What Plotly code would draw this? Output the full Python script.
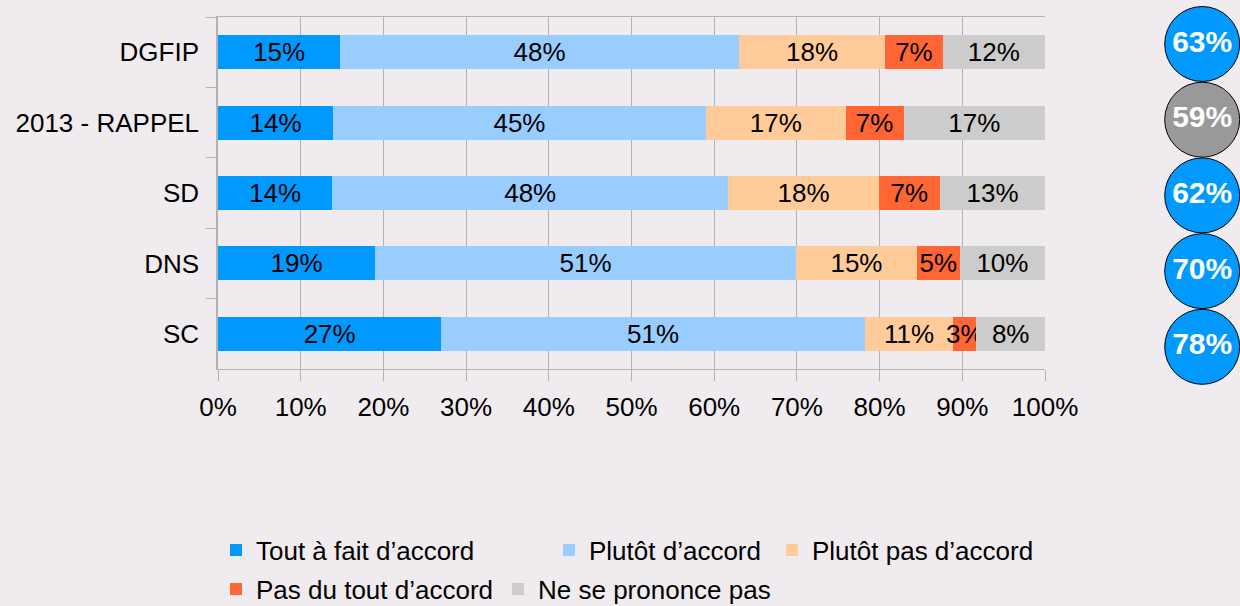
import plotly.graph_objects as go

categories = ["DGFIP", "2013 - RAPPEL", "SD", "DNS", "SC"]
series_names = ["Tout à fait d’accord", "Plutôt d’accord", "Plutôt pas d’accord",
                "Pas du tout d’accord", "Ne se prononce pas"]
tout_a_fait = [14.75, 13.9, 13.8, 19.0, 27.0]
plutot = [48.25, 45.1, 47.9, 50.9, 51.2]
plutot_pas = [17.65, 16.9, 18.2, 14.6, 10.7]
pas_du_tout = [7.0, 7.0, 7.4, 5.2, 2.8]
nsp = [12.33, 17.1, 12.7, 10.3, 8.3]
accord_total = [63, 59, 62, 70, 78]
x_ticks = [0, 10, 20, 30, 40, 50, 60, 70, 80, 90, 100]

series_values = [tout_a_fait, plutot, plutot_pas, pas_du_tout, nsp]
colors = ["#0099ff", "#99ccff", "#ffcc99", "#ff6633", "#cccccc"]
circle_colors = ["#0099ff", "#999999", "#0099ff", "#0099ff", "#0099ff"]

FONT = "Liberation Sans, Arial, sans-serif"
FS = 26
BG = "#efebef"
GRID = "#b3b3b3"

fig = go.Figure()
legend_ids = ["legend", "legend2", "legend3", "legend4", "legend5"]
for name, vals, col, lg in zip(series_names, series_values, colors, legend_ids):
    fig.add_trace(go.Bar(
        y=categories, x=vals, name=name, orientation="h",
        marker=dict(color=col, line=dict(width=0)),
        texttemplate="%{x:.0f}%", textposition="inside",
        insidetextanchor="middle", textangle=0,
        textfont=dict(color="#000000", size=FS, family=FONT),
        legend=lg, hoverinfo="skip",
    ))

fig.add_trace(go.Scatter(
    x=[0.58] * len(accord_total), y=list(range(len(accord_total))),
    xaxis="x2", yaxis="y2", mode="markers+text",
    marker=dict(size=75, color=circle_colors, line=dict(color="#000000", width=1)),
    text=[f"{v}%" for v in accord_total], textposition="middle center",
    textfont=dict(color="#ffffff", size=30, family=FONT, weight="bold"),
    cliponaxis=False, showlegend=False, hoverinfo="skip",
))

W, H = 1240, 606
ml, mr, mt, mb = 218, 0, 17, 237
pw = W - ml - mr
ph = H - mt - mb
main_end = (1045 - ml) / pw

def px_x(p):
    return (p - ml) / pw

def px_y(p):
    return (H - mb - p) / ph

legend_common = dict(orientation="h", bgcolor="rgba(0,0,0,0)", borderwidth=0,
                     font=dict(size=FS, family=FONT, color="#000000"),
                     xanchor="left", yanchor="middle", itemclick=False,
                     itemdoubleclick=False)
legend_pos = [(216, 550), (549, 550), (772, 550), (216, 589), (498, 589)]
legend_layout = {}
for lg, (lx, ly) in zip(legend_ids, legend_pos):
    legend_layout[lg] = dict(legend_common, x=px_x(lx), y=px_y(ly))

fig.update_layout(
    width=W, height=H,
    margin=dict(l=ml, r=mr, t=mt, b=mb, autoexpand=False),
    paper_bgcolor=BG, plot_bgcolor=BG,
    barmode="stack", bargap=0.517,
    font=dict(family=FONT, size=FS, color="#000000"),
    uniformtext=dict(minsize=FS, mode="show"),
    xaxis=dict(
        domain=[0, main_end], range=[0, 100], tickvals=x_ticks,
        ticktext=[f"{t}%" for t in x_ticks],
        showgrid=True, gridcolor=GRID, gridwidth=1,
        ticks="outside", ticklen=11, tickcolor=GRID, tickwidth=1,
        showline=True, mirror=True, linecolor=GRID, linewidth=1, zeroline=False,
        tickfont=dict(size=FS, family=FONT, color="#000000"),
        ticklabelstandoff=4,
        automargin=False, fixedrange=True,
    ),
    yaxis=dict(
        type="category", categoryorder="array", categoryarray=categories,
        autorange="reversed", tickson="boundaries",
        ticks="outside", ticklen=10, tickcolor=GRID, tickwidth=1,
        showline=True, linecolor=GRID, linewidth=1.5, showgrid=False,
        tickfont=dict(size=FS, family=FONT, color="#000000"),
        ticklabelstandoff=12,
        automargin=False, fixedrange=True,
    ),
    xaxis2=dict(domain=[px_x(1150), 1], range=[0, 1], visible=False,
                anchor="y2", fixedrange=True),
    yaxis2=dict(range=[(H - mb - 44) / 75.7, -27 / 75.7], visible=False,
                anchor="x2", fixedrange=True),
    **legend_layout,
)

fig.write_html("out.html", config={"displayModeBar": False},
               post_script="document.body.style.margin='0';document.body.style.overflow='hidden';")
